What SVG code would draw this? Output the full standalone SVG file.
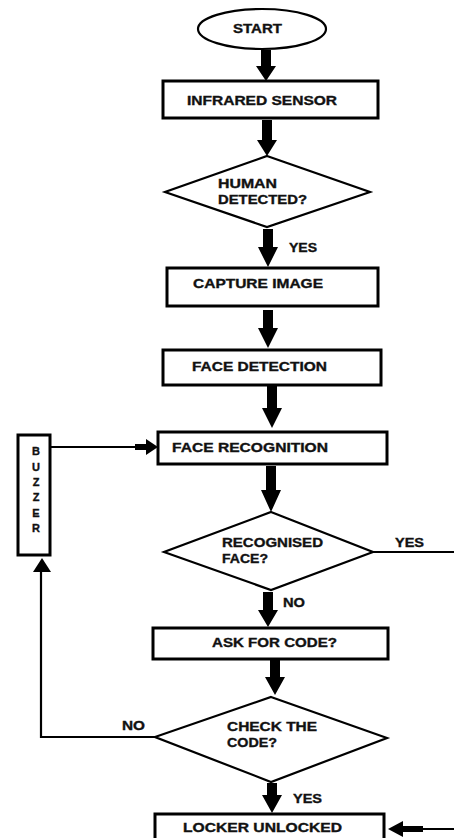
<svg xmlns="http://www.w3.org/2000/svg" width="454" height="838" viewBox="0 0 454 838">
<style>
.box{fill:#fff;stroke:#000;stroke-width:3}
.dia{fill:#fff;stroke:#000;stroke-width:2.2}
.ln{fill:none;stroke:#000;stroke-width:2.2}
.ar{fill:#000;stroke:none}
text{font-family:"Liberation Sans",Arial,sans-serif;font-weight:bold;font-size:12.5px;fill:#111;stroke:#111;stroke-width:0.35}
.bz{font-size:11px;text-anchor:middle}
</style>
<rect width="454" height="838" fill="#fff"/>
<g id="connectors">
<path class="ar" d="M261,50h10v16h5l-10,15l-10,-15h5z"/>
<path class="ar" d="M262,120h10v20h5l-10,16l-10,-16h5z"/>
<path class="ar" d="M263,229h10v18h5l-10,20l-10,-20h5z"/>
<path class="ar" d="M263,310h10v18h5l-10,20l-10,-20h5z"/>
<path class="ar" d="M267,386h10v22h5l-10,20l-10,-20h5z"/>
<path class="ar" d="M266,466h10v24h5l-10,22l-10,-22h5z"/>
<path class="ar" d="M263,592h10v18h5l-10,17l-10,-17h5z"/>
<path class="ar" d="M270,660h10v17h5l-10,18l-10,-18h5z"/>
<path class="ar" d="M267,783h10v12h5l-10,18l-10,-18h5z"/>
<line class="ln" x1="373" y1="552" x2="454" y2="552"/>
<polyline class="ln" points="155,737 41,737 41,572"/>
<path class="ar" d="M33,572l9,-14l9,14z"/>
<line class="ln" x1="50" y1="447" x2="136" y2="447"/>
<path class="ar" d="M135,444h11v-5l12,8l-12,8v-5h-11z"/>
<line class="ln" x1="420" y1="829" x2="454" y2="829"/>
<path class="ar" d="M423,826h-20v-5l-15,8l15,8v-5h20z"/>
</g>
<g id="start">
<ellipse class="dia" cx="262" cy="29" rx="64" ry="20"/>
<text x="233" y="33" font-size="11.5" textLength="49" lengthAdjust="spacingAndGlyphs">START</text>
</g>
<g id="infrared">
<rect class="box" x="163" y="81" width="215" height="37"/>
<text x="187" y="105" textLength="150" lengthAdjust="spacingAndGlyphs">INFRARED SENSOR</text>
</g>
<g id="human">
<polygon class="dia" points="267,156 370,192 267,227 165,192"/>
<text x="218" y="188" textLength="59" lengthAdjust="spacingAndGlyphs">HUMAN</text>
<text x="218" y="204" textLength="89" lengthAdjust="spacingAndGlyphs">DETECTED?</text>
</g>
<text id="yes1" x="289" y="252" textLength="28" lengthAdjust="spacingAndGlyphs">YES</text>
<g id="capture">
<rect class="box" x="167" y="268" width="211" height="38"/>
<text x="193" y="288" textLength="130" lengthAdjust="spacingAndGlyphs">CAPTURE IMAGE</text>
</g>
<g id="facedet">
<rect class="box" x="163" y="350" width="218" height="35"/>
<text x="192" y="371" textLength="135" lengthAdjust="spacingAndGlyphs">FACE DETECTION</text>
</g>
<g id="facerec">
<rect class="box" x="158" y="432" width="229" height="32"/>
<text x="172" y="452" textLength="156" lengthAdjust="spacingAndGlyphs">FACE RECOGNITION</text>
</g>
<g id="recognised">
<polygon class="dia" points="271,512 373,552 271,590 164,552"/>
<text x="222" y="547" textLength="101" lengthAdjust="spacingAndGlyphs">RECOGNISED</text>
<text x="222" y="563" textLength="46" lengthAdjust="spacingAndGlyphs">FACE?</text>
</g>
<text id="yes2" x="395" y="547" textLength="29" lengthAdjust="spacingAndGlyphs">YES</text>
<text id="no1" x="283" y="607" textLength="22" lengthAdjust="spacingAndGlyphs">NO</text>
<g id="ask">
<rect class="box" x="153" y="628" width="235" height="31"/>
<text x="212" y="647" textLength="125" lengthAdjust="spacingAndGlyphs">ASK FOR CODE?</text>
</g>
<g id="check">
<polygon class="dia" points="271,697 387,738 271,782 155,737"/>
<text x="227" y="731" textLength="90" lengthAdjust="spacingAndGlyphs">CHECK THE</text>
<text x="227" y="747" textLength="50" lengthAdjust="spacingAndGlyphs">CODE?</text>
</g>
<text id="no2" x="122" y="730" textLength="23" lengthAdjust="spacingAndGlyphs">NO</text>
<text id="yes3" x="293" y="803" textLength="29" lengthAdjust="spacingAndGlyphs">YES</text>
<g id="locker">
<rect class="box" x="155" y="814" width="229" height="30"/>
<text x="183" y="832" textLength="159" lengthAdjust="spacingAndGlyphs">LOCKER UNLOCKED</text>
</g>
<g id="buzzer">
<rect class="box" x="18" y="435" width="32" height="120"/>
<text class="bz" x="36" y="455">B</text>
<text class="bz" x="36" y="471">U</text>
<text class="bz" x="36" y="486">Z</text>
<text class="bz" x="36" y="501">Z</text>
<text class="bz" x="36" y="517">E</text>
<text class="bz" x="36" y="532">R</text>
</g>
</svg>
